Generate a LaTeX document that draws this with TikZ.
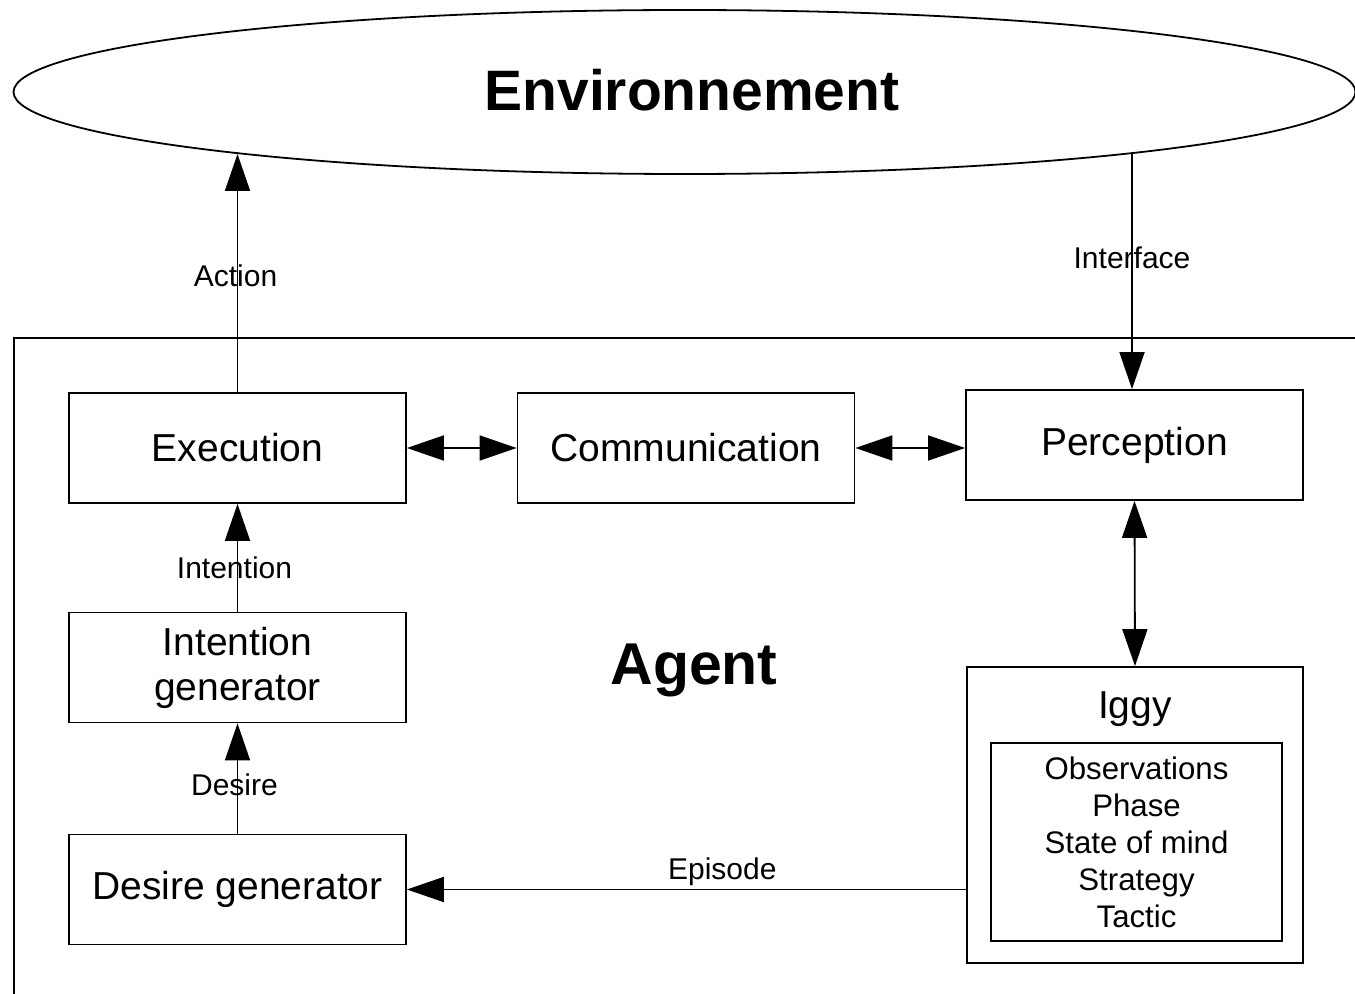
\documentclass[tikz,border=0pt]{standalone}
\usepackage{fontspec}
\setmainfont{Liberation Sans}
\usetikzlibrary{arrows.meta,shapes.geometric}
\begin{document}
\begin{tikzpicture}[x=0.5pt,y=-0.5pt,
  line width=0.9pt,
  box/.style={draw,minimum width=168.5pt,minimum height=55pt,inner sep=0pt,font=\fontsize{19.5}{23}\selectfont,align=center},
  lbl/.style={font=\fontsize{15}{18}\selectfont,inner sep=0pt},
  arr/.style={-{Triangle[length=18.5pt,width=12.5pt]}},
  darr/.style={{Triangle[length=18.5pt,width=12.5pt]}-{Triangle[length=18.5pt,width=12.5pt]}}]
\useasboundingbox (0,0) rectangle (1355,994);
\clip (0,0) rectangle (1355,994);
% environment
\node[draw,ellipse,minimum width=671pt,minimum height=82pt,inner sep=0pt] (env) at (684.5,92) {};
\node[font=\fontsize{28.5}{32}\bfseries\selectfont] (envt) at (692,90) {Environnement};
% agent frame
\draw (1360,338) -- (14,338) -- (14,1000);
\node[font=\fontsize{29.5}{33}\bfseries\selectfont] (agent) at (694,670) {Agent};
% boxes
\node[box] (exec) at (237.5,448) {Execution};
\node[box] (comm) at (686,448) {Communication};
\node[box] (perc) at (1134.5,445) {Perception};
\node[box] (ig) at (237.5,667.5) {Intention\\[-0.5pt]generator};
\node[box] (dg) at (237.5,889.5) {Desire generator};
\node[draw,minimum width=168pt,minimum height=148pt,inner sep=0pt] (iggy) at (1135,815) {};
\node[font=\fontsize{19.5}{23}\selectfont] (iggyt) at (1135,709) {Iggy};
\node[draw,minimum width=145.5pt,minimum height=99pt,inner sep=0pt,align=center,font=\fontsize{15.6}{18.5}\selectfont] (inner) at (1136.5,842) {Observations\\Phase\\State of mind\\Strategy\\Tactic};
% coordinates on ellipse border
\coordinate (acttip) at (237.5,154);
\coordinate (iftop) at (1132,154);
% connectors
\draw[arr] (exec.north) -- node[lbl,pos=0.489,xshift=-1pt] {Action} (acttip);
\draw[arr] (iftop) -- node[lbl,pos=0.442] {Interface} (iftop |- perc.north);
\draw[darr] (exec.east) -- (comm.west);
\draw[darr] (comm.east) -- (comm.east -| perc.west);
\draw[arr] (ig.north) -- node[lbl,pos=0.41,xshift=-1.5pt] {Intention} (exec.south);
\draw[arr] (dg.north) -- node[lbl,pos=0.446,xshift=-1.5pt] {Desire} (ig.south);
\draw[darr] (perc.south) -- (iggy.north);
\draw[arr] (dg.east -| iggy.west) -- node[lbl,pos=0.436,yshift=9pt] {Episode} (dg.east);
\end{tikzpicture}
\end{document}
